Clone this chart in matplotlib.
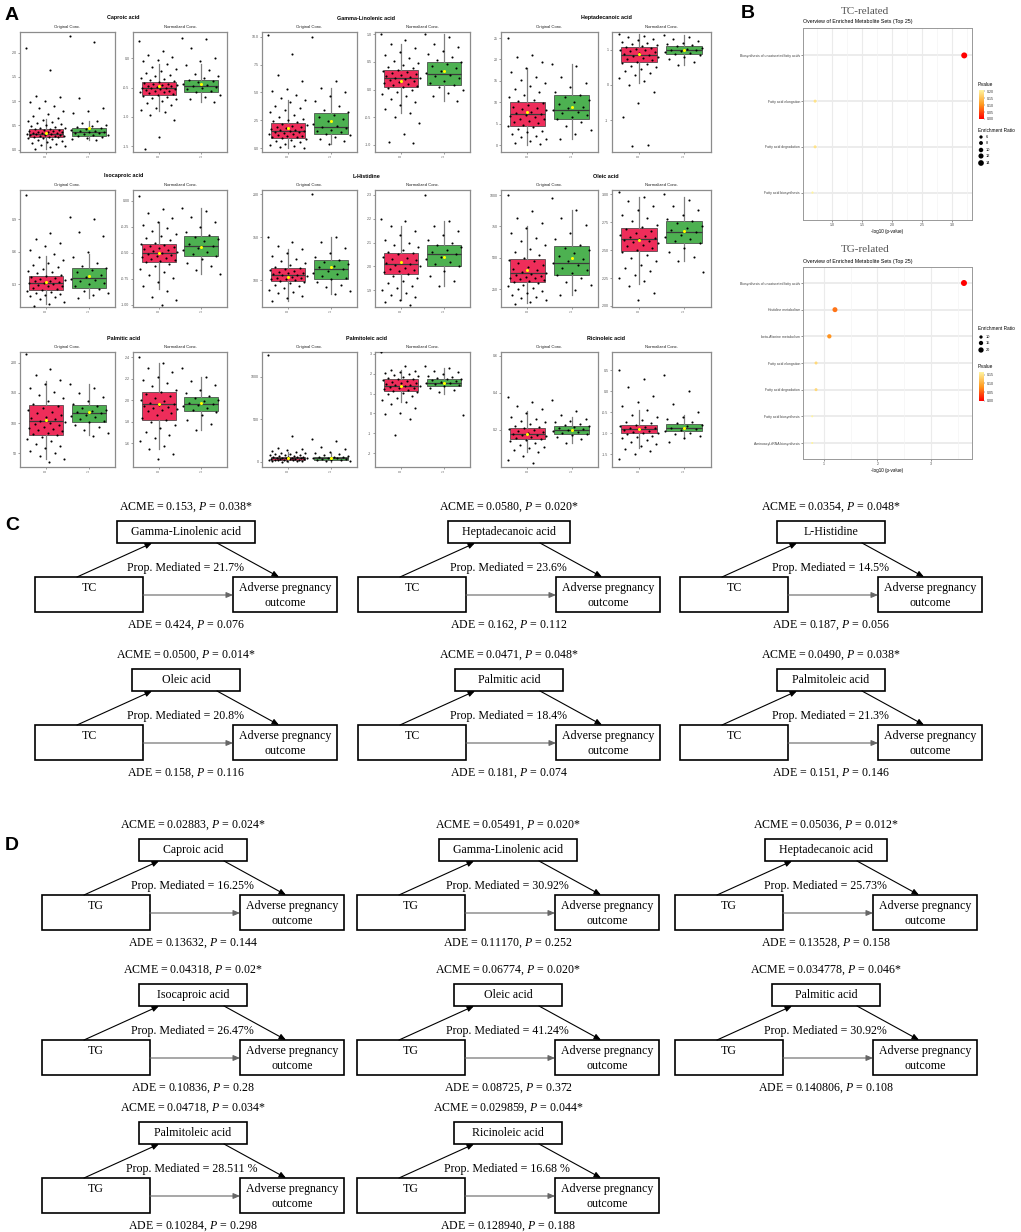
import matplotlib
matplotlib.use("Agg")
import matplotlib.pyplot as plt
import numpy as np
from matplotlib.patches import Rectangle
from matplotlib.colors import LinearSegmentedColormap

W, H = 1021, 1232

# ---------------- panel A data ----------------
metabolites = ["Caproic acid", "Gamma-Linolenic acid", "Heptadecanoic acid",
               "Isocaproic acid", "L-Histidine", "Oleic acid",
               "Palmitic acid", "Palmitoleic acid", "Ricinoleic acid"]
group_labels = ["0", "1"]

# box stats per group: whislo, q1, median, q3, whishi, mean
cap_o_box = [[0.02, 0.25, 0.33, 0.42, 0.64, 0.35], [0.2, 0.28, 0.36, 0.45, 0.6, 0.45]]
cap_n_box = [[-0.9, -0.62, -0.5, -0.4, -0.1, -0.48], [-0.75, -0.58, -0.48, -0.37, -0.1, -0.43]]
gam_o_box = [[0.0, 0.9, 1.5, 2.25, 4.3, 1.8], [0.4, 1.26, 1.9, 3.15, 5.4, 2.4]]
gam_n_box = [[-0.42, 0.05, 0.2, 0.36, 0.82, 0.15], [-0.2, 0.08, 0.28, 0.5, 1.0, 0.33]]
hep_o_box = [[0.0, 4.5, 7.2, 10.0, 18.0, 7.7], [1.5, 6.1, 8.2, 11.7, 19.0, 8.9]]
hep_n_box = [[0.05, 0.64, 0.86, 1.07, 1.45, 0.88], [0.56, 0.88, 0.98, 1.1, 1.42, 0.99]]
iso_o_box = [[0.12, 0.245, 0.31, 0.374, 0.56, 0.32], [0.17, 0.27, 0.36, 0.45, 0.58, 0.38]]
iso_n_box = [[-0.85, -0.59, -0.5, -0.41, -0.2, -0.5], [-0.7, -0.53, -0.43, -0.34, -0.07, -0.44]]
his_o_box = [[76, 99, 106, 114, 136, 104], [84, 101, 113, 124, 150, 115]]
his_n_box = [[1.86, 1.97, 2.01, 2.055, 2.17, 2.02], [1.92, 2.0, 2.05, 2.09, 2.19, 2.04]]
ole_o_box = [[140, 310, 380, 490, 750, 405], [200, 360, 460, 590, 880, 500]]
ole_n_box = [[2.2, 2.49, 2.6, 2.7, 2.98, 2.59], [2.4, 2.56, 2.66, 2.76, 2.98, 2.67]]
pal_o_box = [[40, 80, 103, 130, 170, 105], [80, 101, 117, 130, 165, 118]]
pal_n_box = [[1.55, 1.82, 1.97, 2.08, 2.35, 1.97], [1.72, 1.9, 1.97, 2.03, 2.22, 1.98]]
plo_o_box = [[0, 20, 40, 60, 120, 45], [0, 25, 40, 55, 100, 50]]
plo_n_box = [[0.6, 1.15, 1.4, 1.75, 2.2, 1.4], [1.0, 1.4, 1.55, 1.75, 2.3, 1.55]]
ric_o_box = [[0.08, 0.15, 0.18, 0.21, 0.3, 0.18], [0.13, 0.18, 0.2, 0.22, 0.27, 0.2]]
ric_n_box = [[-1.35, -1.0, -0.9, -0.8, -0.45, -0.9], [-1.1, -0.95, -0.86, -0.78, -0.55, -0.86]]

# individual points (approximate values of the visible dots)
cap_o0 = [2.1, 1.65, 1.1, 1.08, 1.0, 0.99, 0.9, 0.85, 0.8, 0.74, 0.7, 0.66, 0.62, 0.6, 0.57, 0.55, 0.52, 0.5,
          0.48, 0.46, 0.45, 0.44, 0.43, 0.42, 0.41, 0.4, 0.39, 0.38, 0.37, 0.36, 0.36, 0.35, 0.35, 0.34, 0.33,
          0.33, 0.32, 0.31, 0.31, 0.3, 0.29, 0.28, 0.28, 0.27, 0.26, 0.25, 0.24, 0.23, 0.22, 0.2, 0.18, 0.16,
          0.14, 0.12, 0.1, 0.08, 0.05, 0.02]
cap_o1 = [2.35, 2.22, 1.07, 0.85, 0.8, 0.75, 0.6, 0.55, 0.5, 0.48, 0.46, 0.44, 0.42, 0.4, 0.39, 0.38, 0.37,
          0.36, 0.35, 0.34, 0.33, 0.31, 0.3, 0.28, 0.26, 0.24, 0.22, 0.2]
cap_n0 = [0.3, 0.12, 0.05, 0.02, -0.02, -0.05, -0.1, -0.14, -0.18, -0.22, -0.25, -0.28, -0.3, -0.33, -0.35,
          -0.37, -0.39, -0.4, -0.42, -0.43, -0.44, -0.45, -0.46, -0.47, -0.48, -0.49, -0.5, -0.5, -0.51, -0.52,
          -0.53, -0.54, -0.55, -0.56, -0.57, -0.58, -0.6, -0.61, -0.62, -0.64, -0.66, -0.68, -0.7, -0.73,
          -0.76, -0.8, -0.84, -0.88, -0.92, -0.97, -1.05, -1.35, -1.55]
cap_n1 = [0.35, 0.33, 0.18, 0.0, -0.05, -0.12, -0.2, -0.26, -0.3, -0.34, -0.37, -0.39, -0.41, -0.43, -0.45,
          -0.47, -0.49, -0.51, -0.53, -0.55, -0.58, -0.62, -0.66, -0.7, -0.74]
gam_o0 = [10.2, 8.5, 6.6, 6.0, 5.3, 5.1, 4.8, 4.5, 4.3, 4.1, 3.8, 3.6, 3.4, 3.2, 3.0, 2.8, 2.6, 2.5, 2.4, 2.3,
          2.2, 2.1, 2.0, 1.9, 1.85, 1.8, 1.7, 1.65, 1.6, 1.55, 1.5, 1.45, 1.4, 1.35, 1.3, 1.25, 1.2, 1.1, 1.05,
          1.0, 0.95, 0.9, 0.8, 0.7, 0.6, 0.5, 0.4, 0.3, 0.2, 0.1, 0.0]
gam_o1 = [10.0, 6.0, 5.4, 5.0, 4.7, 4.2, 3.8, 3.4, 3.2, 3.0, 2.8, 2.6, 2.4, 2.2, 2.0, 1.9, 1.8, 1.6, 1.5, 1.4,
          1.3, 1.2, 1.0, 0.8, 0.6, 0.4]
gam_n0 = [1.0, 0.9, 0.82, 0.75, 0.68, 0.62, 0.57, 0.52, 0.48, 0.44, 0.41, 0.38, 0.36, 0.34, 0.32, 0.3, 0.28,
          0.26, 0.24, 0.22, 0.21, 0.2, 0.19, 0.18, 0.16, 0.14, 0.12, 0.1, 0.08, 0.06, 0.04, 0.02, 0.0, -0.04,
          -0.08, -0.12, -0.17, -0.22, -0.28, -0.35, -0.42, -0.5, -0.6, -0.8, -0.95, -0.97]
gam_n1 = [1.0, 0.95, 0.82, 0.76, 0.7, 0.64, 0.58, 0.54, 0.5, 0.46, 0.42, 0.38, 0.34, 0.3, 0.27, 0.24, 0.2,
          0.16, 0.12, 0.08, 0.04, 0.0, -0.06, -0.12, -0.2]
hep_o0 = [25.0, 21.0, 20.5, 19.5, 18.0, 17.0, 16.0, 15.2, 14.5, 13.8, 13.0, 12.4, 11.8, 11.2, 10.6, 10.2, 9.8,
          9.4, 9.0, 8.7, 8.4, 8.1, 7.8, 7.5, 7.2, 7.0, 6.8, 6.5, 6.2, 6.0, 5.7, 5.4, 5.1, 4.8, 4.5, 4.2, 3.8,
          3.4, 3.0, 2.6, 2.2, 1.8, 1.4, 1.0, 0.6, 0.2]
hep_o1 = [19.0, 18.5, 16.0, 14.5, 13.5, 12.5, 11.8, 11.2, 10.6, 10.0, 9.5, 9.0, 8.6, 8.2, 7.8, 7.4, 7.0, 6.6,
          6.2, 5.5, 4.5, 3.5, 2.5, 1.5]
hep_n0 = [1.45, 1.4, 1.35, 1.3, 1.26, 1.22, 1.18, 1.15, 1.12, 1.1, 1.08, 1.05, 1.02, 1.0, 0.98, 0.95, 0.92, 0.9,
          0.88, 0.85, 0.82, 0.8, 0.77, 0.74, 0.7, 0.66, 0.62, 0.58, 0.54, 0.5, 0.45, 0.4, 0.34, 0.28, 0.2, 0.1,
          0.0, -0.2, -0.5, -0.9, -1.7, -1.72]
hep_n1 = [1.42, 1.36, 1.3, 1.25, 1.2, 1.16, 1.12, 1.09, 1.06, 1.03, 1.0, 0.98, 0.96, 0.93, 0.9, 0.87, 0.84,
          0.8, 0.74, 0.66, 0.56]
iso_o0 = [1.12, 0.77, 0.72, 0.68, 0.65, 0.62, 0.58, 0.55, 0.52, 0.5, 0.48, 0.46, 0.44, 0.42, 0.41, 0.4, 0.39,
          0.38, 0.37, 0.36, 0.35, 0.34, 0.33, 0.33, 0.32, 0.31, 0.31, 0.3, 0.29, 0.28, 0.28, 0.27, 0.26, 0.25,
          0.24, 0.23, 0.22, 0.21, 0.2, 0.19, 0.18, 0.16, 0.14, 0.12, 0.1]
iso_o1 = [0.92, 0.9, 0.78, 0.75, 0.6, 0.55, 0.5, 0.47, 0.45, 0.43, 0.41, 0.39, 0.37, 0.35, 0.34, 0.33, 0.31,
          0.3, 0.28, 0.26, 0.24, 0.22, 0.2, 0.17]
iso_n0 = [0.05, -0.08, -0.12, -0.16, -0.2, -0.23, -0.26, -0.29, -0.32, -0.34, -0.36, -0.38, -0.4, -0.41, -0.42,
          -0.43, -0.44, -0.45, -0.46, -0.47, -0.48, -0.49, -0.5, -0.51, -0.52, -0.53, -0.54, -0.55, -0.56,
          -0.57, -0.58, -0.59, -0.61, -0.63, -0.65, -0.68, -0.71, -0.74, -0.78, -0.82, -0.87, -0.92, -0.95, -1.0]
iso_n1 = [-0.07, -0.1, -0.15, -0.2, -0.25, -0.3, -0.33, -0.35, -0.37, -0.39, -0.41, -0.43, -0.45, -0.47, -0.49,
          -0.51, -0.53, -0.56, -0.6, -0.63, -0.66, -0.7]
his_o0 = [150, 145, 140, 136, 132, 128, 125, 122, 120, 118, 116, 114, 113, 112, 111, 110, 109, 108, 107, 106,
          106, 105, 104, 103, 103, 102, 101, 100, 99, 98, 97, 95, 93, 91, 89, 87, 85, 82, 79, 76]
his_o1 = [200, 150, 145, 138, 132, 127, 124, 121, 119, 117, 115, 113, 111, 109, 107, 105, 103, 101, 98, 95, 92,
          88, 84]
his_n0 = [2.2, 2.19, 2.17, 2.15, 2.13, 2.11, 2.1, 2.09, 2.08, 2.07, 2.06, 2.055, 2.05, 2.04, 2.035, 2.03, 2.025,
          2.02, 2.015, 2.01, 2.005, 2.0, 1.995, 1.99, 1.985, 1.98, 1.975, 1.97, 1.96, 1.95, 1.94, 1.93, 1.92, 1.91,
          1.9, 1.89, 1.88, 1.87, 1.86, 1.85, 1.84]
his_n1 = [2.3, 2.19, 2.17, 2.15, 2.13, 2.11, 2.1, 2.09, 2.08, 2.07, 2.06, 2.05, 2.04, 2.03, 2.02, 2.01, 2.0,
          1.98, 1.96, 1.94, 1.92]
ole_o0 = [1000, 870, 820, 780, 740, 700, 660, 630, 600, 570, 545, 520, 500, 485, 470, 455, 440, 425, 410, 400,
          390, 380, 372, 365, 358, 350, 342, 335, 328, 320, 312, 304, 295, 285, 272, 260, 248, 235, 220, 205,
          190, 175, 160, 145, 130]
ole_o1 = [980, 880, 820, 760, 700, 650, 600, 580, 560, 540, 510, 490, 470, 455, 440, 420, 400, 380, 365, 340,
          310, 280, 240, 200]
ole_n0 = [3.02, 2.98, 2.94, 2.9, 2.86, 2.82, 2.79, 2.76, 2.73, 2.71, 2.69, 2.67, 2.65, 2.64, 2.63, 2.62, 2.61,
          2.6, 2.59, 2.58, 2.57, 2.56, 2.55, 2.54, 2.52, 2.5, 2.48, 2.46, 2.43, 2.4, 2.37, 2.34, 2.31, 2.28,
          2.25, 2.22, 2.18, 2.12, 2.05]
ole_n1 = [3.0, 2.95, 2.9, 2.86, 2.82, 2.78, 2.76, 2.74, 2.72, 2.7, 2.68, 2.66, 2.64, 2.62, 2.6, 2.58, 2.56,
          2.52, 2.48, 2.44, 2.4, 2.3]
pal_o0 = [215, 190, 180, 172, 165, 158, 152, 146, 141, 136, 132, 128, 125, 122, 119, 116, 113, 110, 108, 106,
          104, 102, 100, 98, 96, 94, 92, 90, 88, 86, 84, 82, 80, 77, 74, 70, 66, 62, 58, 54, 50, 45, 40, 35]
pal_o1 = [165, 158, 150, 143, 137, 132, 128, 125, 122, 120, 118, 116, 114, 112, 110, 107, 104, 101, 97, 93, 88,
          83, 78]
pal_n0 = [2.4, 2.35, 2.3, 2.26, 2.22, 2.19, 2.16, 2.13, 2.1, 2.08, 2.06, 2.04, 2.02, 2.0, 1.99, 1.98, 1.97, 1.96,
          1.95, 1.94, 1.93, 1.92, 1.91, 1.9, 1.88, 1.86, 1.84, 1.82, 1.8, 1.77, 1.74, 1.71, 1.68, 1.65, 1.62,
          1.58, 1.55, 1.5, 1.45]
pal_n1 = [2.3, 2.22, 2.18, 2.14, 2.1, 2.07, 2.04, 2.02, 2.0, 1.99, 1.98, 1.97, 1.96, 1.95, 1.93, 1.91, 1.89,
          1.86, 1.82, 1.78, 1.72]
plo_o0 = [1250, 300, 160, 150, 140, 130, 120, 110, 100, 95, 90, 85, 80, 75, 70, 65, 60, 58, 55, 52, 50, 48, 46,
          44, 42, 40, 38, 36, 34, 32, 30, 28, 26, 24, 22, 20, 18, 15, 12, 9, 6, 3]
plo_o1 = [270, 250, 180, 150, 120, 100, 90, 80, 70, 62, 56, 52, 48, 44, 40, 36, 32, 28, 24, 20, 15, 10]
plo_n0 = [3.1, 2.4, 2.2, 2.15, 2.1, 2.05, 2.0, 1.95, 1.9, 1.85, 1.8, 1.76, 1.72, 1.68, 1.64, 1.6, 1.56, 1.52,
          1.48, 1.45, 1.42, 1.39, 1.36, 1.33, 1.3, 1.26, 1.22, 1.18, 1.14, 1.1, 1.05, 1.0, 0.9, 0.8, 0.7, 0.6,
          0.5, 0.3, 0.0, -0.05, -0.3, -1.1]
plo_n1 = [2.4, 2.3, 2.15, 2.1, 2.0, 1.9, 1.85, 1.8, 1.75, 1.72, 1.68, 1.64, 1.6, 1.56, 1.52, 1.48, 1.44, 1.4,
          1.3, 1.2, 1.1, -0.1]
ric_o0 = [0.38, 0.35, 0.33, 0.31, 0.29, 0.27, 0.26, 0.25, 0.24, 0.23, 0.22, 0.215, 0.21, 0.205, 0.2, 0.195,
          0.19, 0.185, 0.18, 0.175, 0.17, 0.165, 0.16, 0.155, 0.15, 0.145, 0.14, 0.13, 0.12, 0.11, 0.1, 0.09,
          0.08, 0.06, 0.04, 0.02]
ric_o1 = [0.36, 0.3, 0.28, 0.26, 0.25, 0.24, 0.23, 0.225, 0.22, 0.215, 0.21, 0.205, 0.2, 0.195, 0.19, 0.185,
          0.18, 0.17, 0.16, 0.15, 0.13]
ric_n0 = [0.5, 0.3, 0.1, -0.1, -0.25, -0.35, -0.45, -0.55, -0.62, -0.68, -0.72, -0.76, -0.79, -0.82, -0.84,
          -0.86, -0.88, -0.9, -0.92, -0.94, -0.96, -0.98, -1.0, -1.02, -1.05, -1.08, -1.12, -1.16, -1.2, -1.25,
          -1.3, -1.36, -1.42, -1.5, -1.6]
ric_n1 = [0.4, 0.0, -0.3, -0.5, -0.6, -0.66, -0.72, -0.76, -0.8, -0.83, -0.86, -0.89, -0.92, -0.95, -0.98,
          -1.02, -1.06, -1.1, -1.2]

# axis ranges / ticks (original, normalized)
orig_ylim = [(-0.05, 2.43), (-0.36, 10.45), (-1.6, 26.4), (0.09, 1.17), (69, 205), (107, 1040),
             (27, 218), (-60, 1290), (0.0, 0.62)]
orig_ticks = [[0, 0.5, 1, 1.5, 2], [0, 2.5, 5, 7.5, 10], [0, 5, 10, 15, 20, 25], [0.3, 0.6, 0.9],
              [100, 150, 200], [250, 500, 750, 1000], [50, 100, 150, 200], [0, 500, 1000], [0.2, 0.4, 0.6]]
orig_fmt = ["%.1f", "%.1f", "%d", "%.1f", "%d", "%d", "%d", "%d", "%.1f"]
norm_ylim = [(-1.6, 0.45), (-1.13, 1.04), (-1.9, 1.5), (-1.02, 0.105), (1.83, 2.32), (1.99, 3.04),
             (1.38, 2.45), (-2.7, 3.1), (-1.8, 0.94)]
norm_ticks = [[-1.5, -1, -0.5, 0], [-1, -0.5, 0, 0.5, 1], [-1, 0, 1], [-1, -0.75, -0.5, -0.25, 0],
              [1.9, 2.0, 2.1, 2.2, 2.3], [2.0, 2.25, 2.5, 2.75, 3.0], [1.6, 1.8, 2.0, 2.2, 2.4],
              [-2, -1, 0, 1, 2, 3], [-1.5, -1.0, -0.5, 0.0, 0.5]]
norm_fmt = ["%.1f", "%.1f", "%d", "%.2f", "%.1f", "%.2f", "%.1f", "%d", "%.1f"]

orig_boxes = [cap_o_box, gam_o_box, hep_o_box, iso_o_box, his_o_box, ole_o_box, pal_o_box, plo_o_box, ric_o_box]
norm_boxes = [cap_n_box, gam_n_box, hep_n_box, iso_n_box, his_n_box, ole_n_box, pal_n_box, plo_n_box, ric_n_box]
orig_pts = [(cap_o0, cap_o1), (gam_o0, gam_o1), (hep_o0, hep_o1), (iso_o0, iso_o1), (his_o0, his_o1),
            (ole_o0, ole_o1), (pal_o0, pal_o1), (plo_o0, plo_o1), (ric_o0, ric_o1)]
norm_pts = [(cap_n0, cap_n1), (gam_n0, gam_n1), (hep_n0, hep_n1), (iso_n0, iso_n1), (his_n0, his_n1),
            (ole_n0, ole_n1), (pal_n0, pal_n1), (plo_n0, plo_n1), (ric_n0, ric_n1)]

# ---------------- panel B data ----------------
tc_sets = ["Biosynthesis of unsaturated fatty acids", "Fatty acid elongation", "Fatty acid degradation",
           "Fatty acid biosynthesis"]
tc_pvalue = [0.00063, 0.19, 0.19, 0.21]
tc_ratio = [15.0, 5.0, 5.0, 2.5]
tg_sets = ["Biosynthesis of unsaturated fatty acids", "Histidine metabolism", "beta-Alanine metabolism",
           "Fatty acid elongation", "Fatty acid degradation", "Fatty acid biosynthesis",
           "Aminoacyl-tRNA biosynthesis"]
tg_pvalue = [0.00024, 0.062, 0.079, 0.14, 0.14, 0.165, 0.165]
tg_ratio = [23.5, 18.5, 15.0, 8.5, 8.5, 3.5, 3.5]

# ---------------- panel C / D data ----------------
tc_mediators = ["Gamma-Linolenic acid", "Heptadecanoic acid", "L-Histidine", "Oleic acid", "Palmitic acid",
                "Palmitoleic acid"]
tc_acme = ["0.153", "0.0580", "0.0354", "0.0500", "0.0471", "0.0490"]
tc_acme_p = ["0.038*", "0.020*", "0.048*", "0.014*", "0.048*", "0.038*"]
tc_prop = ["21.7%", "23.6%", "14.5%", "20.8%", "18.4%", "21.3%"]
tc_ade = ["0.424", "0.162", "0.187", "0.158", "0.181", "0.151"]
tc_ade_p = ["0.076", "0.112", "0.056", "0.116", "0.074", "0.146"]

tg_mediators = ["Caproic acid", "Gamma-Linolenic acid", "Heptadecanoic acid", "Isocaproic acid", "Oleic acid",
                "Palmitic acid", "Palmitoleic acid", "Ricinoleic acid"]
tg_acme = ["0.02883", "0.05491", "0.05036", "0.04318", "0.06774", "0.034778", "0.04718", "0.029859"]
tg_acme_p = ["0.024*", "0.020*", "0.012*", "0.02*", "0.020*", "0.046*", "0.034*", "0.044*"]
tg_prop = ["16.25%", "30.92%", "25.73%", "26.47%", "41.24%", "30.92%", "28.511 %", "16.68 %"]
tg_ade = ["0.13632", "0.11170", "0.13528", "0.10836", "0.08725", "0.140806", "0.10284", "0.128940"]
tg_ade_p = ["0.144", "0.252", "0.158", "0.28", "0.372", "0.108", "0.298", "0.188"]

RED = "#EE2D5A"
GREEN = "#4DB151"
SERIF = "Liberation Serif"

plt.rcParams['font.family'] = ['Liberation Sans', 'DejaVu Sans']
plt.rcParams['mathtext.fontset'] = 'custom'
plt.rcParams['mathtext.rm'] = 'Liberation Serif'
plt.rcParams['mathtext.it'] = 'Liberation Serif:italic'

fig = plt.figure(figsize=(W / 100, H / 100), dpi=100)


def px_axes(l, t, r, b):
    return fig.add_axes([l / W, 1 - b / H, (r - l) / W, (b - t) / H])


def ftext(x, y, s, **kw):
    fig.text(x / W, 1 - y / H, s, **kw)


def box_panel(ax, pts, stats, ylim, ticks, fmt):
    bstats = [dict(whislo=s[0], q1=s[1], med=s[2], q3=s[3], whishi=s[4], mean=s[5], fliers=[]) for s in stats]
    bp = ax.bxp(bstats, positions=[1, 2], widths=0.8, patch_artist=True, showcaps=False,
                showmeans=True, showfliers=False,
                boxprops=dict(edgecolor='#3a3a3a', linewidth=0.5),
                whiskerprops=dict(color='#808080', linewidth=0.9),
                medianprops=dict(color='#3a3a3a', linewidth=0.9),
                meanprops=dict(marker='o', markerfacecolor='#FFFF00', markeredgecolor='none', markersize=2.2))
    for patch, c in zip(bp['boxes'], [RED, GREEN]):
        patch.set_facecolor(c)
    for m in bp['means']:
        m.set_zorder(5)
    for pos, vals in zip([1, 2], pts):
        n = len(vals)
        jit = ((np.arange(n) * 0.6180339887) % 1.0 - 0.5) * 0.9
        ax.scatter(pos + jit, vals, s=2.3, c='black', linewidths=0, zorder=4)
    ax.set_xlim(0.4, 2.6)
    ax.set_ylim(*ylim)
    ax.set_yticks(ticks)
    ax.set_yticklabels([fmt % t for t in ticks])
    ax.set_xticks([1, 2])
    ax.set_xticklabels(group_labels, rotation=90)
    ax.tick_params(length=1.5, width=0.4, colors='#555555', labelsize=2.6, pad=1)
    for sp in ax.spines.values():
        sp.set_color('#8c8c8c')
        sp.set_linewidth(0.9)


# ---------------- panel A ----------------
col_x = [(20, 115, 133, 227), (262, 357, 375, 470), (501, 598, 612, 711)]
row_y = [(32, 152), (190, 307), (352, 467)]
for i, name in enumerate(metabolites):
    r, c = divmod(i, 3)
    l1, r1, l2, r2 = col_x[c]
    t, b = row_y[r]
    ax1 = px_axes(l1, t, r1, b)
    box_panel(ax1, orig_pts[i], orig_boxes[i], orig_ylim[i], orig_ticks[i], orig_fmt[i])
    ax2 = px_axes(l2, t, r2, b)
    box_panel(ax2, norm_pts[i], norm_boxes[i], norm_ylim[i], norm_ticks[i], norm_fmt[i])
    ftext((l1 + r2) / 2, t - 14, name, ha='center', va='center', fontsize=3.9, fontweight='bold')
    ftext((l1 + r1) / 2, t - 5, "Original Conc.", ha='center', va='center', fontsize=3.1, color='#222222')
    ftext((l2 + r2) / 2, t - 5, "Normalized Conc.", ha='center', va='center', fontsize=3.1, color='#222222')

# ---------------- panel B ----------------
pcmap = LinearSegmentedColormap.from_list("pv", ["#FF0000", "#FF9A1F", "#FFF4A0"])


def diam(er, er0, d0, k):
    return (d0 + (er - er0) * k) * 0.72


def enrich_panel(ax, sets, pvals, ratios, xlim, xticks, xminor, xfmt, vmax, er0, k):
    n = len(sets)
    ypos = np.arange(n)[::-1]
    xv = -np.log10(np.array(pvals))
    ax.set_xlim(*xlim)
    ax.set_ylim(-0.6, n - 0.4)
    for y in ypos:
        ax.axhline(y, color='#EBEBEB', lw=1.3, zorder=0)
    for x in xticks:
        ax.axvline(x, color='#EBEBEB', lw=0.8, zorder=0)
    for x in xminor:
        ax.axvline(x, color='#F4F4F4', lw=0.5, zorder=0)
    sizes = [diam(e, er0, 3.3, k) ** 2 for e in ratios]
    ax.scatter(xv, ypos, s=sizes, c=pvals, cmap=pcmap, vmin=0, vmax=vmax, linewidths=0, zorder=3)
    ax.set_yticks(ypos)
    ax.set_yticklabels(sets)
    ax.set_xticks(xticks)
    ax.set_xticklabels([xfmt % x for x in xticks])
    ax.tick_params(length=1.2, width=0.4, colors='#444444', labelsize=2.5, pad=1)
    ax.set_xlabel("-log10 (p-value)", fontsize=3.3, labelpad=1.5)
    for sp in ax.spines.values():
        sp.set_color('#999999')
        sp.set_linewidth(0.7)


axb1 = px_axes(803, 28, 972, 220)
enrich_panel(axb1, tc_sets, tc_pvalue, tc_ratio, (0.52, 3.33), [1.0, 1.5, 2.0, 2.5, 3.0],
             [0.75, 1.25, 1.75, 2.25, 2.75, 3.25], "%.1f", 0.21, 6, 0.3)
axb2 = px_axes(803, 267, 972, 459)
enrich_panel(axb2, tg_sets, tg_pvalue, tg_ratio, (0.61, 3.77), [1, 2, 3], [1.5, 2.5, 3.5], "%d",
             0.165, 10, 0.2)

ftext(865, 12, "TC-related", ha='center', va='center', fontsize=8, family=SERIF, color='#555555')
ftext(803, 22, "Overview of Enriched Metabolite Sets (Top 25)", ha='left', va='center', fontsize=3.8)
ftext(865, 250, "TG-related", ha='center', va='center', fontsize=8, family=SERIF, color='#555555')
ftext(803, 262, "Overview of Enriched Metabolite Sets (Top 25)", ha='left', va='center', fontsize=3.8)


def colorbar_legend(top, bottom, vmax, ticks):
    cax = px_axes(979, top, 984, bottom)
    grad = np.linspace(vmax, 0, 100).reshape(-1, 1)
    cax.imshow(grad, aspect='auto', cmap=pcmap, vmin=0, vmax=vmax, extent=(0, 1, 0, vmax))
    cax.set_xticks([])
    cax.yaxis.tick_right()
    cax.set_yticks(ticks)
    cax.set_yticklabels(["%.2f" % t for t in ticks])
    cax.tick_params(length=1.0, width=0.3, colors='#333333', labelsize=2.6, pad=1)
    for sp in cax.spines.values():
        sp.set_visible(False)


def size_legend(y_title, ys, vals, er0, k):
    ftext(978, y_title, "Enrichment Ratio", ha='left', va='center', fontsize=3.4)
    lax = px_axes(976, ys[0] - 3, 1000, ys[-1] + 3)
    lax.set_xlim(976, 1000)
    lax.set_ylim(ys[-1] + 3, ys[0] - 3)
    lax.scatter([981] * len(vals), ys, s=[diam(v, er0, 3.3, k) ** 2 for v in vals], c='black', linewidths=0)
    for y, v in zip(ys, vals):
        lax.text(986, y, str(v), ha='left', va='center', fontsize=2.8)
    lax.axis('off')


ftext(978, 85, "P.value", ha='left', va='center', fontsize=3.4)
colorbar_legend(90, 119, 0.21, [0.0, 0.05, 0.10, 0.15, 0.20])
size_legend(131, [137, 143, 150, 156, 163], [6, 8, 10, 12, 14], 6, 0.3)
size_legend(329, [337, 343, 350], [10, 15, 20], 10, 0.2)
ftext(978, 366, "P.value", ha='left', va='center', fontsize=3.4)
colorbar_legend(372, 401, 0.165, [0.0, 0.05, 0.10, 0.15])

# ---------------- panels C and D ----------------
axd = fig.add_axes([0, 0, 1, 1])
axd.set_xlim(0, W)
axd.set_ylim(H, 0)
axd.axis('off')
axd.patch.set_alpha(0)
renderer = fig.canvas.get_renderer()


def arrow(x1, y1, x2, y2, color='black'):
    axd.annotate('', xy=(x2, y2), xytext=(x1, y1),
                 arrowprops=dict(arrowstyle='-|>,head_length=0.4,head_width=0.17', lw=0.8, color=color,
                                 shrinkA=0, shrinkB=0))


def mediation(x0, y0, src, med, acme, acme_p, prop, ade, ade_p):
    kw = dict(ha='center', va='center', fontsize=8.6, family=SERIF)
    axd.text(x0 + 151, y0, "ACME = %s, $P$ = %s" % (acme, acme_p), **kw)
    t = axd.text(x0 + 151, y0 + 25, med, **kw)
    bw = max(108, t.get_window_extent(renderer).width + 28)
    axd.add_patch(Rectangle((x0 + 151 - bw / 2, y0 + 14), bw, 22, fill=False, lw=1.2, ec='black'))
    axd.add_patch(Rectangle((x0, y0 + 70), 108, 35, fill=False, lw=1.2, ec='black'))
    axd.add_patch(Rectangle((x0 + 198, y0 + 70), 104, 35, fill=False, lw=1.2, ec='black'))
    axd.text(x0 + 54, y0 + 81, src, **kw)
    axd.text(x0 + 250, y0 + 81, "Adverse pregnancy", **kw)
    axd.text(x0 + 250, y0 + 96, "outcome", **kw)
    axd.text(x0 + 150, y0 + 61, "Prop. Mediated = %s" % prop, **kw)
    axd.text(x0 + 151, y0 + 118, "ADE = %s, $P$ = %s" % (ade, ade_p), **kw)
    arrow(x0 + 42, y0 + 70, x0 + 117, y0 + 36)
    arrow(x0 + 182, y0 + 36, x0 + 244, y0 + 70)
    arrow(x0 + 108, y0 + 88, x0 + 198, y0 + 88, color='#666666')


c_x = [35, 358, 680]
c_y = [507, 655]
for i in range(len(tc_mediators)):
    r, c = divmod(i, 3)
    mediation(c_x[c], c_y[r], "TC", tc_mediators[i], tc_acme[i], tc_acme_p[i], tc_prop[i], tc_ade[i],
              tc_ade_p[i])

d_x = [42, 357, 675]
d_y = [825, 970, 1108]
for i in range(len(tg_mediators)):
    r, c = divmod(i, 3)
    mediation(d_x[c], d_y[r], "TG", tg_mediators[i], tg_acme[i], tg_acme_p[i], tg_prop[i], tg_ade[i],
              tg_ade_p[i])

for letter, x, y in [("A", 12, 15), ("B", 748, 14), ("C", 12, 525), ("D", 12, 845)]:
    ftext(x, y, letter, ha='center', va='center', fontsize=14, fontweight='bold')

fig.savefig("out.png", dpi=100)
